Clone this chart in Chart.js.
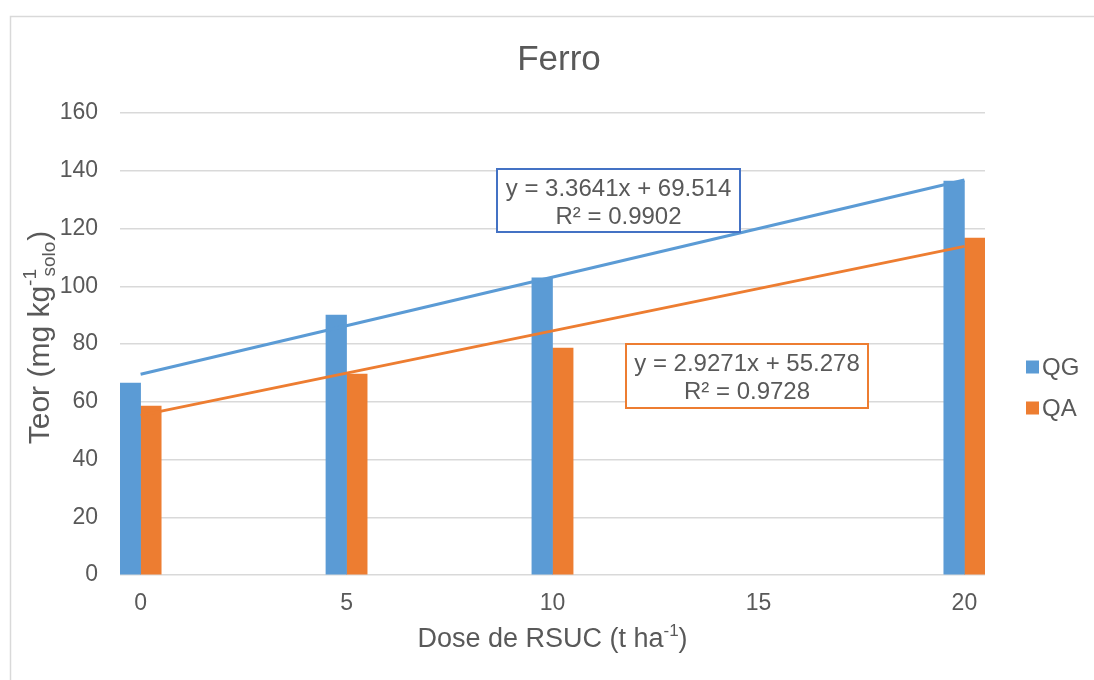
<!DOCTYPE html>
<html>
<head>
<meta charset="utf-8">
<script src="https://cdn.jsdelivr.net/npm/chart.js@4/dist/chart.umd.min.js"></script>
<style>
html,body{margin:0;padding:0;background:#fff;}
#wrap{width:1094px;height:680px;position:relative;}
</style>
</head>
<body>
<div id="wrap"><canvas id="c" width="1094" height="680"></canvas></div>
<script>
const chartTitle = 'Ferro';
const doses = [0, 5, 10, 20];
const xTicks = [0, 5, 10, 15, 20];
const yTicks = [0, 20, 40, 60, 80, 100, 120, 140, 160];
const seriesNames = ['QG', 'QA'];
const qgValues = [66.5, 90.0, 102.9, 136.4];
const qaValues = [58.5, 69.6, 78.6, 116.7];
const trendSlopes = [3.3641, 2.9271];
const trendIntercepts = [69.514, 55.278];
const trendR2 = ['0.9902', '0.9728'];
const trendRange = [0, 20];

const colors = ['#5B9BD5', '#ED7D31'];
const boxColors = ['#4472C4', '#ED7D31'];
const FONT = "'Liberation Sans', Arial, sans-serif";
const TXT = '#595959';

function trendData(i) {
  return trendRange.map(x => ({x: x, y: trendSlopes[i] * x + trendIntercepts[i]}));
}
function eqText(i) {
  return 'y = ' + trendSlopes[i] + 'x + ' + trendIntercepts[i];
}

const decor = {
  id: 'decor',
  beforeDraw(chart) {
    const ctx = chart.ctx;
    ctx.save();
    ctx.strokeStyle = '#d9d9d9';
    ctx.lineWidth = 1.5;
    ctx.strokeRect(10.5, 16.5, 1200, 800);
    ctx.restore();
  },
  afterDraw(chart) {
    const ctx = chart.ctx;
    const ca = chart.chartArea;
    ctx.save();
    ctx.fillStyle = TXT;
    ctx.textBaseline = 'middle';
    // title
    ctx.font = '35px ' + FONT;
    ctx.textAlign = 'center';
    ctx.fillText(chartTitle, 559, 60);

    // x axis title with superscript
    const xa = 'Dose de RSUC (t ha';
    const xs = '-1';
    const xe = ')';
    ctx.font = '27px ' + FONT;
    const w1 = ctx.measureText(xa).width;
    const w3 = ctx.measureText(xe).width;
    ctx.font = '17px ' + FONT;
    const w2 = ctx.measureText(xs).width;
    let sx = (ca.left + ca.right) / 2 - (w1 + w2 + w3) / 2;
    const ty = 640;
    ctx.textAlign = 'left';
    ctx.font = '27px ' + FONT;
    ctx.fillText(xa, sx, ty);
    ctx.font = '17px ' + FONT;
    ctx.fillText(xs, sx + w1, ty - 9);
    ctx.font = '27px ' + FONT;
    ctx.fillText(xe, sx + w1 + w2, ty);

    // y axis title rotated
    ctx.save();
    ctx.translate(41, 338);
    ctx.rotate(-Math.PI / 2);
    const ya = 'Teor (mg kg';
    const ys1 = '-1';
    const ys2 = 'solo';
    const ye = ')';
    ctx.font = '30px ' + FONT;
    const a1 = ctx.measureText(ya).width;
    const a4 = ctx.measureText(ye).width;
    ctx.font = '19px ' + FONT;
    const a2 = ctx.measureText(ys1).width;
    const a3 = ctx.measureText(ys2).width;
    const subShift = a2 * 0.55;
    const midW = Math.max(a2, subShift + a3);
    let px = -(a1 + midW + a4) / 2;
    ctx.textAlign = 'left';
    ctx.font = '30px ' + FONT;
    ctx.fillText(ya, px, 0);
    ctx.font = '19px ' + FONT;
    ctx.fillText(ys1, px + a1, -10);
    ctx.fillText(ys2, px + a1 + subShift, 9);
    ctx.font = '30px ' + FONT;
    ctx.fillText(ye, px + a1 + midW + 1, 0);
    ctx.restore();

    // legend
    const legY = [367, 408];
    ctx.font = '24px ' + FONT;
    ctx.textAlign = 'left';
    for (let i = 0; i < seriesNames.length; i++) {
      ctx.fillStyle = colors[i];
      ctx.fillRect(1026, legY[i] - 6.5, 13, 13);
      ctx.fillStyle = TXT;
      ctx.fillText(seriesNames[i], 1042, legY[i] + 1);
    }

    // trendline equation boxes
    const boxes = [
      {x: 497, y: 169, w: 243, h: 63},
      {x: 626, y: 344, w: 242, h: 64}
    ];
    for (let i = 0; i < boxes.length; i++) {
      const b = boxes[i];
      ctx.fillStyle = '#ffffff';
      ctx.fillRect(b.x, b.y, b.w, b.h);
      ctx.strokeStyle = boxColors[i];
      ctx.lineWidth = 2;
      ctx.strokeRect(b.x, b.y, b.w, b.h);
      ctx.fillStyle = TXT;
      ctx.font = '24px ' + FONT;
      ctx.textAlign = 'center';
      ctx.fillText(eqText(i), b.x + b.w / 2, b.y + 20);
      ctx.fillText('R\u00B2 = ' + trendR2[i], b.x + b.w / 2, b.y + 48);
    }
    ctx.restore();
  }
};

const datasets = [
  {
    type: 'line',
    label: 'Linear (QG)',
    data: trendData(0),
    borderColor: colors[0],
    borderWidth: 3,
    pointRadius: 0,
    fill: false,
    order: 0
  },
  {
    type: 'line',
    label: 'Linear (QA)',
    data: trendData(1),
    borderColor: colors[1],
    borderWidth: 3,
    pointRadius: 0,
    fill: false,
    order: 0
  },
  {
    type: 'bar',
    label: seriesNames[0],
    data: doses.map((x, i) => ({x: x, y: qgValues[i]})),
    backgroundColor: colors[0],
    barThickness: 20.6,
    order: 1
  },
  {
    type: 'bar',
    label: seriesNames[1],
    data: doses.map((x, i) => ({x: x, y: qaValues[i]})),
    backgroundColor: colors[1],
    barThickness: 20.6,
    order: 1
  }
];

new Chart(document.getElementById('c'), {
  type: 'bar',
  data: {datasets: datasets},
  plugins: [decor],
  options: {
    responsive: false,
    animation: false,
    layout: {padding: {top: 113, right: 109, left: 0, bottom: 0}},
    plugins: {
      legend: {display: false},
      title: {display: false},
      tooltip: {enabled: false}
    },
    scales: {
      x: {
        type: 'linear',
        offset: false,
        min: -0.5,
        max: 20.5,
        afterBuildTicks: s => { s.ticks = xTicks.map(v => ({value: v})); },
        afterFit: s => { s.height = 105; },
        grid: {display: false, drawTicks: false, offset: false},
        border: {display: false},
        ticks: {color: TXT, font: {family: FONT, size: 23}, padding: 15}
      },
      y: {
        min: 0,
        max: 160,
        afterBuildTicks: s => { s.ticks = yTicks.map(v => ({value: v})); },
        afterFit: s => { s.width = 120; },
        grid: {color: '#d9d9d9', lineWidth: 1.5, drawTicks: false},
        border: {display: false},
        ticks: {color: TXT, font: {family: FONT, size: 23}, padding: 22}
      }
    }
  }
});
</script>
</body>
</html>
